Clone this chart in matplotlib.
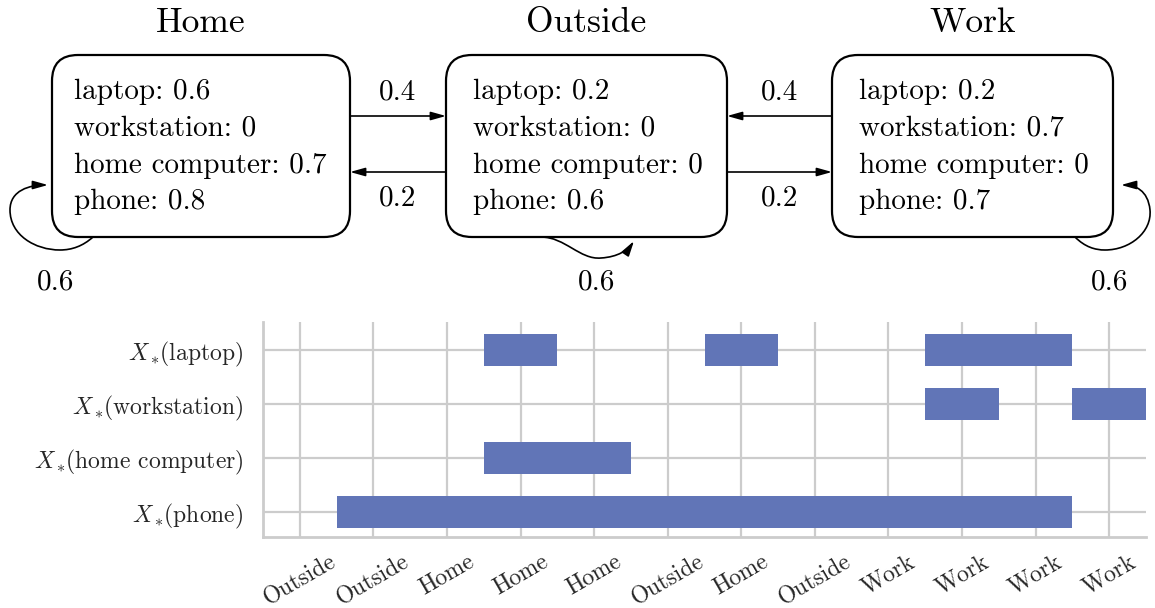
import matplotlib
matplotlib.use("Agg")
import matplotlib.pyplot as plt
from matplotlib.patches import FancyBboxPatch, FancyArrowPatch
from matplotlib.path import Path

plt.rcParams["font.family"] = "serif"
plt.rcParams["font.serif"] = ["cmr10"]
plt.rcParams["mathtext.fontset"] = "cm"
plt.rcParams["axes.formatter.use_mathtext"] = True

# states of the chain and the device probabilities shown in each box
states = ["Home", "Outside", "Work"]
devices = ["laptop", "workstation", "home computer", "phone"]
home_probs = [0.6, 0, 0.7, 0.8]
outside_probs = [0.2, 0, 0, 0.6]
work_probs = [0.2, 0.7, 0, 0.7]
stay_probs = [0.6, 0.6, 0.6]      # self loops Home, Outside, Work
to_outside = [0.4, 0.4]           # Home->Outside, Work->Outside
from_outside = [0.2, 0.2]         # Outside->Home, Outside->Work

# sampled state sequence and which devices are used at each step
timeline = ["Outside", "Outside", "Home", "Home", "Home", "Outside",
            "Home", "Outside", "Work", "Work", "Work", "Work"]
laptop_on = [0, 0, 0, 1, 0, 0, 1, 0, 0, 1, 1, 0]
workstation_on = [0, 0, 0, 0, 0, 0, 0, 0, 0, 1, 0, 1]
home_computer_on = [0, 0, 0, 1, 1, 0, 0, 0, 0, 0, 0, 0]
phone_on = [0, 1, 1, 1, 1, 1, 1, 1, 1, 1, 1, 0]

W, H = 1155, 608
fig = plt.figure(figsize=(W / 100, H / 100), dpi=100)

# ---------- diagram (pixel coordinates) ----------
ax_d = fig.add_axes([0, 0, 1, 1])
ax_d.set_xlim(0, W)
ax_d.set_ylim(H, 0)
ax_d.axis("off")

box_x = [52, 446, 832]
box_w = [298, 281, 281]
text_x = [74, 473, 859]
box_top, box_h = 55, 182
line_y = [99, 136, 173, 209]

for name, x0, w, tx, probs in zip(states, box_x, box_w, text_x,
                                  [home_probs, outside_probs, work_probs]):
    ax_d.add_patch(FancyBboxPatch((x0, box_top), w, box_h,
                                  boxstyle="round,pad=0,rounding_size=26",
                                  fc="white", ec="black", lw=1.6))
    ax_d.text(x0 + w / 2, 32, name, fontsize=25.5, ha="center", va="baseline")
    for dev, p, y in zip(devices, probs, line_y):
        ax_d.text(tx, y, f"{dev}: {p:g}", fontsize=21, ha="left", va="baseline")

astyle = "-|>,head_length=0.5,head_width=0.14"

def arrow(p0, p1):
    ax_d.add_patch(FancyArrowPatch(p0, p1, arrowstyle=astyle, mutation_scale=18,
                                   shrinkA=0, shrinkB=0, lw=1.2, color="black"))

# Home <-> Outside
arrow((350, 116), (446, 116))
arrow((446, 172), (350, 172))
ax_d.text(398, 100, f"{to_outside[0]:g}", fontsize=21, ha="center", va="baseline")
ax_d.text(398, 206, f"{from_outside[0]:g}", fontsize=21, ha="center", va="baseline")
# Work <-> Outside
arrow((832, 116), (727, 116))
arrow((727, 172), (832, 172))
ax_d.text(780, 100, f"{to_outside[1]:g}", fontsize=21, ha="center", va="baseline")
ax_d.text(780, 206, f"{from_outside[1]:g}", fontsize=21, ha="center", va="baseline")

C = Path.CURVE4
loops = [
    [(93, 237), (83, 246), (72, 250), (60, 250),
     (35, 250), (10, 235), (10, 210),
     (10, 190), (30, 185), (48, 185)],
    [(541, 237), (565, 237), (580, 260), (601, 258),
     (618, 257), (628, 250), (634, 241)],
    [(1075, 237), (1085, 247), (1095, 250), (1105, 250),
     (1130, 250), (1152, 232), (1150, 210),
     (1148, 190), (1135, 185), (1121, 185)],
]
for pts in loops:
    codes = [Path.MOVETO] + [C] * (len(pts) - 1)
    ax_d.add_patch(FancyArrowPatch(path=Path(pts, codes), arrowstyle=astyle,
                                   mutation_scale=18, lw=1.2, color="black"))
for x, p in zip([56, 597, 1110], stay_probs):
    ax_d.text(x, 289, f"{p:g}", fontsize=21, ha="center", va="baseline")

# ---------- activity chart ----------
ax = fig.add_axes([263 / W, 71 / H, 883 / W, 215 / H])
bar_color = "#6175b7"

def runs(flags):
    out, start = [], None
    for t, f in enumerate(list(flags) + [0]):
        if f and start is None:
            start = t
        if not f and start is not None:
            out.append((start - 0.5, t - start))
            start = None
    return out

usage = [laptop_on, workstation_on, home_computer_on, phone_on]
for i, flags in enumerate(usage):
    ax.broken_barh(runs(flags), (i - 0.3, 0.6), facecolors=bar_color)

ax.set_xlim(-0.5, len(timeline) - 0.5)
ax.set_ylim(3.46, -0.52)
ax.set_yticks(range(len(devices)))
ax.set_yticklabels([rf"$X_*\!$({d})" for d in devices], fontsize=17, color=".15")
ax.set_xticks(range(len(timeline)))
ax.set_xticklabels(timeline, rotation=30, ha="center", fontsize=17, color=".15")
ax.tick_params(length=0)
ax.tick_params(axis="y", pad=14)
ax.tick_params(axis="x", pad=10)
ax.grid(True, color=".8", lw=1.6)
ax.set_axisbelow(True)
for s in ["top", "right"]:
    ax.spines[s].set_visible(False)
for s in ["left", "bottom"]:
    ax.spines[s].set_color(".8")
    ax.spines[s].set_linewidth(2)

fig.savefig("out.png", dpi=100)
